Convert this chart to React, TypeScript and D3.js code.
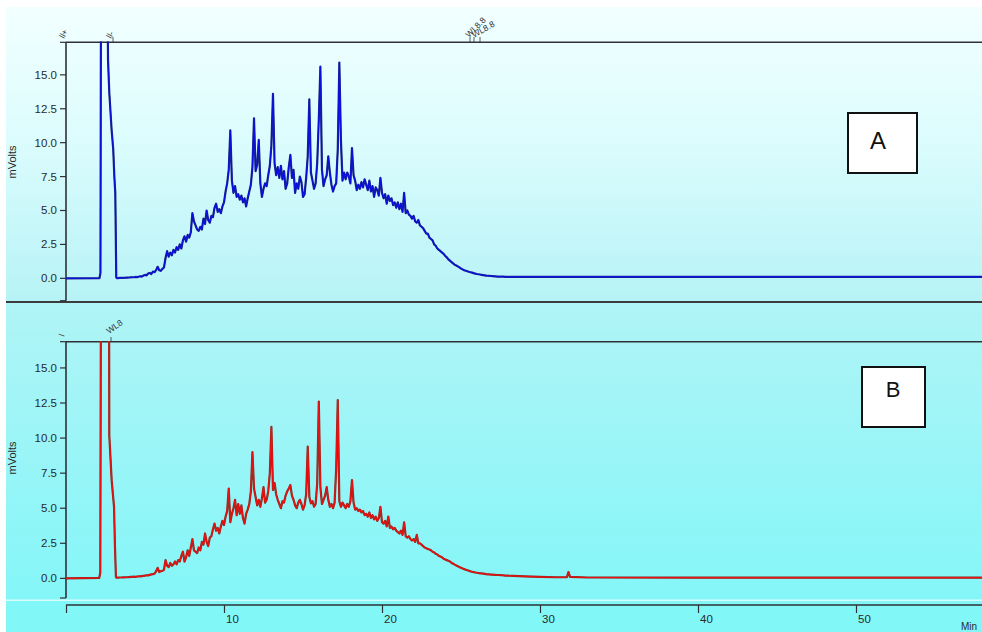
import React from "react";
import * as d3 from "d3";

// ---------- DATA ----------
const xTicks = [0, 10, 20, 30, 40, 50];
const xTickLabels = ["", "10", "20", "30", "40", "50"];
const yTicks = [0, 2.5, 5, 7.5, 10, 12.5, 15];
const panelLabels = ["A", "B"];

// solvent peak (time, mV)
const frontA: [number, number][] = [
  [0, 0], [2.12, 0.02], [2.18, 0.4], [2.22, 25], [2.6, 25], [2.66, 16.1], [2.74, 13.7],
  [2.89, 10.9], [2.99, 9.5], [3.06, 7.5], [3.12, 6.3], [3.15, 3.3], [3.18, 0.1],
];
const frontB: [number, number][] = [
  [0, 0], [2.1, 0.03], [2.17, 0.4], [2.22, 25], [2.72, 25], [2.74, 10.2], [2.89, 7.0],
  [3.04, 5.1], [3.1, 2.25], [3.16, 0.1],
];

// hump sampled every 0.1 min from 3.2 min
const humpStart = 3.2;
const humpStep = 0.1;
const humpA = [
  0.02, 0.02, 0.03, 0.03, 0.04, 0.04, 0.05, 0.05, 0.06, 0.07,
  0.08, 0.08, 0.1, 0.09, 0.12, 0.15, 0.13, 0.2, 0.25, 0.22,
  0.35, 0.4, 0.32, 0.5, 0.45, 0.6, 0.85, 0.6, 0.55, 0.7,
  0.8, 1.5, 2.0, 1.6, 1.9, 1.7, 2.1, 1.9, 2.3, 2.1,
  2.5, 2.2, 2.8, 3.1, 2.7, 3.2, 3.0, 3.4, 4.8, 4.2,
  3.9, 3.6, 3.5, 3.8, 3.6, 4.4, 4.0, 5.0, 4.3, 4.1,
  4.6, 4.5, 5.2, 5.5, 4.9, 5.1, 4.8, 5.3, 5.6, 6.4,
  7.0, 8.0, 10.9, 7.2, 6.3, 6.8, 6.0, 6.2, 5.8, 6.1,
  5.6, 5.9, 5.3, 5.9, 6.4, 6.9, 8.2, 11.8, 7.9, 8.4,
  10.2, 7.0, 6.0, 6.6, 7.0, 6.8, 7.6, 8.3, 9.8, 13.6,
  8.5, 7.6, 8.2, 7.4, 8.3, 7.3, 7.9, 6.6, 7.0, 8.2,
  9.1, 7.4, 8.0, 6.3, 7.0, 6.6, 7.5, 7.1, 6.0, 6.2,
  7.4, 9.0, 13.2, 7.8, 7.2, 6.6, 7.0, 8.5, 11.7, 15.6,
  8.0, 6.8, 7.3, 7.6, 9.0, 7.8, 6.9, 6.4, 6.8, 7.0,
  9.5, 15.9, 10.2, 7.2, 7.8, 7.3, 7.8, 7.5, 7.0, 9.6,
  7.6, 7.2, 6.5, 6.9, 6.6, 7.1, 6.7, 7.3, 6.9, 6.5,
  7.2, 6.4, 6.8, 6.0, 6.7, 6.5, 6.1, 7.4, 6.3, 5.9,
  6.2, 5.5, 6.1, 5.7, 5.9, 5.4, 5.6, 5.2, 5.6, 5.1,
  5.5, 4.9, 6.3, 4.8, 5.0, 4.7, 4.6, 4.4, 4.6, 4.2,
  4.1, 4.3, 3.9, 3.8, 3.7, 3.5, 3.3, 3.3, 3.0, 2.9,
  2.8, 2.5, 2.4, 2.2, 2.1, 2.0, 1.9, 1.8, 1.65, 1.55,
  1.4, 1.3, 1.2, 1.1, 1.0, 0.95, 0.88, 0.8, 0.72, 0.66,
  0.6, 0.56, 0.52, 0.48, 0.45, 0.42, 0.38, 0.35, 0.32, 0.3,
  0.28, 0.26, 0.24, 0.22, 0.2, 0.19, 0.18, 0.17, 0.16, 0.15,
  0.14, 0.13, 0.13, 0.12, 0.12, 0.12, 0.11, 0.11, 0.11,
];
const humpB = [
  0.05, 0.05, 0.06, 0.06, 0.07, 0.07, 0.08, 0.08, 0.09, 0.1,
  0.1, 0.12, 0.11, 0.13, 0.15, 0.14, 0.16, 0.18, 0.2, 0.22,
  0.21, 0.25, 0.28, 0.3, 0.33, 0.5, 0.75, 0.45, 0.5, 0.55,
  0.6, 1.3, 0.9, 0.8, 1.1, 0.9, 1.0, 1.2, 1.0, 1.3,
  1.2, 1.6, 1.9, 1.2, 1.5, 2.0, 1.6, 2.2, 2.8, 2.0,
  1.9, 1.8, 2.2, 2.0, 2.6, 2.4, 3.2, 2.6, 2.3, 2.9,
  3.0, 3.5, 3.9, 3.4, 3.6, 3.2, 3.7, 4.1, 3.8, 4.4,
  4.8, 6.4, 4.0, 4.6, 5.0, 5.6, 4.5, 5.3, 4.6, 5.2,
  4.3, 3.9, 4.6, 4.9, 5.3, 6.2, 9.0, 6.4, 5.8, 5.2,
  5.6, 5.1, 5.7, 6.5, 5.4, 5.6, 6.2, 7.5, 10.8, 6.3,
  6.8, 6.0, 5.6, 5.3, 5.0, 5.5, 5.4, 5.9, 6.2, 6.4,
  6.65, 5.9, 5.6, 5.2, 5.0, 5.4, 5.6, 5.3, 4.9, 5.2,
  6.0, 9.4, 5.8, 5.35, 5.5, 5.1, 5.3, 6.8, 12.6, 6.5,
  5.3, 5.6, 5.9, 6.5, 5.6, 5.1, 5.3, 5.0, 5.4, 7.8,
  12.7, 5.5, 5.1, 5.4, 5.2, 5.0, 5.3, 5.1, 5.5, 7.0,
  5.4, 4.9, 5.0, 4.8, 4.9, 4.7, 4.8, 4.5, 4.6, 4.4,
  4.7, 4.3, 4.5, 4.2, 4.4, 4.1, 4.3, 5.1, 4.0, 3.9,
  4.1, 3.7, 4.4, 3.6, 3.7, 3.5, 3.6, 3.4, 3.3, 3.2,
  3.4, 3.1, 4.0, 3.0, 2.9, 3.0, 2.8, 2.7, 2.8, 2.6,
  3.1, 2.5, 2.5, 2.4, 2.3, 2.2, 2.15, 2.1, 2.05, 2.0,
  1.9, 1.85, 1.75, 1.7, 1.6, 1.55, 1.5, 1.4, 1.35, 1.3,
  1.25, 1.2, 1.1, 1.05, 0.98, 0.92, 0.86, 0.8, 0.76, 0.7,
  0.66, 0.62, 0.58, 0.54, 0.5, 0.47, 0.44, 0.42, 0.4, 0.38,
  0.36, 0.35, 0.34, 0.32, 0.3, 0.29, 0.28, 0.27, 0.26, 0.25,
  0.25, 0.24, 0.24, 0.23, 0.22, 0.21, 0.2, 0.2, 0.19,
];

// baseline after the hump
const tailA: [number, number][] = [
  [29, 0.11], [31, 0.1], [33, 0.11], [36, 0.1], [40, 0.1], [45, 0.1], [50, 0.1], [55, 0.1], [58, 0.1],
];
const tailB: [number, number][] = [
  [29, 0.14], [30, 0.1], [31, 0.08], [31.7, 0.08], [31.8, 0.45], [31.9, 0.1], [33, 0.06],
  [40, 0.05], [50, 0.05], [58, 0.05],
];

// ---------- HELPERS ----------
function buildSeries(front: [number, number][], hump: number[], tail: [number, number][]) {
  const pts: [number, number][] = [...front];
  hump.forEach((v, i) => pts.push([humpStart + i * humpStep, v]));
  return pts.concat(tail);
}

const seriesA = buildSeries(frontA, humpA, tailA);
const seriesB = buildSeries(frontB, humpB, tailB);

const FONT = "'Liberation Sans', Arial, sans-serif";
const AXIS = "#2e3236";

const x = d3.scaleLinear().domain([0, 58]).range([66, 66 + 58 * 15.8]);

type Panel = {
  id: string;
  y: d3.ScaleLinear<number, number>;
  top: number;
  bottom: number;
  data: [number, number][];
  color: string;
  edge: string;
  labelY: number;
};

const panels: Panel[] = [
  {
    id: "A",
    y: d3.scaleLinear().domain([-1.65, 17.4]).range([300.7, 42.3]),
    top: 42.3,
    bottom: 300.7,
    data: seriesA,
    color: "#0a0ee0",
    edge: "#1e2a86",
    labelY: 162,
  },
  {
    id: "B",
    y: d3.scaleLinear().domain([-1.4, 16.87]).range([598, 341.7]),
    top: 341.7,
    bottom: 598,
    data: seriesB,
    color: "#ee1010",
    edge: "#8c2c22",
    labelY: 458,
  },
];

function PanelView({ p }: { p: Panel }) {
  const line = d3
    .line<[number, number]>()
    .x((d) => x(d[0]))
    .y((d) => p.y(d[1]));
  const path = line(p.data) || "";
  const x0 = x(0);
  return (
    <g>
      <defs>
        <clipPath id={`clip-${p.id}`}>
          <rect x={x0} y={p.top - 0.8} width={982 - x0} height={p.bottom - p.top + 0.8} />
        </clipPath>
      </defs>
      {/* top line */}
      <line x1={x0} x2={982} y1={p.top} y2={p.top} stroke={AXIS} strokeWidth={1.6} />
      {/* y axis */}
      <line x1={x0} x2={x0} y1={p.top} y2={p.bottom} stroke={AXIS} strokeWidth={1.6} />
      <line x1={x0 - 6} x2={x0} y1={p.top} y2={p.top} stroke={AXIS} strokeWidth={1.2} />
      <line x1={x0 - 6} x2={x0} y1={p.bottom} y2={p.bottom} stroke={AXIS} strokeWidth={1.2} />
      {yTicks.map((t) => (
        <g key={t}>
          <line x1={x0 - 6} x2={x0} y1={p.y(t)} y2={p.y(t)} stroke={AXIS} strokeWidth={1.2} />
          <text
            x={x0 - 9}
            y={p.y(t) + 4}
            textAnchor="end"
            fontSize={11.5}
            fontFamily={FONT}
            fill="#2a2a2a"
          >
            {d3.format(".1f")(t)}
          </text>
        </g>
      ))}
      <text
        transform={`translate(16,${p.labelY}) rotate(-90)`}
        textAnchor="middle"
        fontSize={11}
        fontFamily={FONT}
        fill="#2a2a2a"
      >
        mVolts
      </text>
      <g clipPath={`url(#clip-${p.id})`}>
        <path d={path} fill="none" stroke={p.edge} strokeWidth={2.2} strokeLinejoin="round" />
        <path d={path} fill="none" stroke={p.color} strokeWidth={1.2} strokeLinejoin="round" />
      </g>
    </g>
  );
}

export default function App() {
  const xAxisY = 605;
  return (
    <svg width={982} height={632} style={{ position: "absolute", left: 0, top: 0, display: "block" }}>
      <defs>
        <linearGradient id="gTop" x1="0" y1="0" x2="0" y2="1">
          <stop offset="0" stopColor="#f2ffff" />
          <stop offset="0.45" stopColor="#dcfcfd" />
          <stop offset="1" stopColor="#b6f3f6" />
        </linearGradient>
        <linearGradient id="gBot" x1="0" y1="0" x2="0" y2="1">
          <stop offset="0" stopColor="#b0f4f6" />
          <stop offset="1" stopColor="#84f6f8" />
        </linearGradient>
      </defs>
      <rect x={0} y={0} width={982} height={632} fill="#ffffff" />
      <rect x={6} y={7} width={976} height={295} fill="url(#gTop)" />
      <rect x={6} y={303} width={976} height={297} fill="url(#gBot)" />
      <rect x={6} y={600} width={976} height={32} fill="#82f7f8" />
      <line x1={6} x2={982} y1={600.3} y2={600.3} stroke="#d8fbfb" strokeWidth={1.5} />
      <line x1={6} x2={982} y1={302} y2={302} stroke="#3a3c3e" strokeWidth={2} />

      {panels.map((p) => (
        <PanelView key={p.id} p={p} />
      ))}

      {/* event marks - top panel */}
      <g fontFamily={FONT} fontSize={8.5} fill="#333">
        <text transform={`translate(64,39) rotate(-62)`}>ll+</text>
        <text transform={`translate(111,39) rotate(-62)`}>ll-</text>
        <text transform={`translate(469,38) rotate(-45)`}>WL8.8</text>
        <text transform={`translate(474,38) rotate(-30)`}>WL8.8</text>
        <line x1={470} x2={470} y1={37} y2={42} stroke="#333" strokeWidth={0.8} />
        <line x1={474} x2={474} y1={37} y2={42} stroke="#333" strokeWidth={0.8} />
        <line x1={480} x2={480} y1={37} y2={42} stroke="#333" strokeWidth={0.8} />
        <line x1={113} x2={113} y1={37} y2={42} stroke="#333" strokeWidth={0.8} />
      </g>
      {/* event marks - bottom panel */}
      <g fontFamily={FONT} fontSize={8.5} fill="#333">
        <text transform={`translate(64,337) rotate(-70)`}>l</text>
        <text transform={`translate(109,334) rotate(-35)`}>WL8</text>
        <line x1={111} x2={111} y1={337} y2={342} stroke="#333" strokeWidth={0.8} />
      </g>

      {/* x axis */}
      <line x1={x(0)} x2={982} y1={xAxisY} y2={xAxisY} stroke={AXIS} strokeWidth={1.6} />
      {xTicks.map((t, i) => (
        <g key={t}>
          <line x1={x(t) + 0.5} x2={x(t) + 0.5} y1={xAxisY} y2={xAxisY + 8} stroke={AXIS} strokeWidth={1.2} />
          <text x={x(t) + 2} y={623} fontSize={11.5} fontFamily={FONT} fill="#2a2a2a">
            {xTickLabels[i]}
          </text>
        </g>
      ))}
      <text x={961} y={630} fontSize={10} fontFamily={FONT} fill="#2a2a2a">
        Min
      </text>

      {/* panel label boxes */}
      <rect x={848} y={113} width={69} height={60} fill="#ffffff" stroke="#111" strokeWidth={2} />
      <text x={878} y={149} textAnchor="middle" fontSize={24} fontFamily={FONT} fill="#111">
        {panelLabels[0]}
      </text>
      <rect x={862} y={367} width={63} height={60} fill="#ffffff" stroke="#111" strokeWidth={2} />
      <text x={893} y={397} textAnchor="middle" fontSize={22} fontFamily={FONT} fill="#111">
        {panelLabels[1]}
      </text>
    </svg>
  );
}
